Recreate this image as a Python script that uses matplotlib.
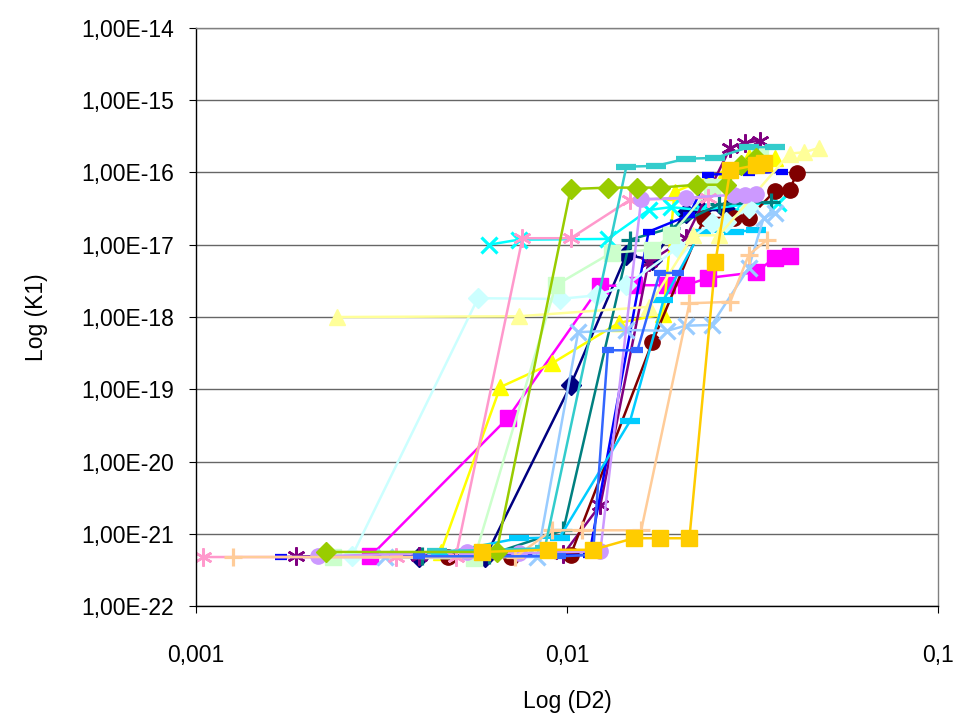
import numpy as np
import matplotlib
matplotlib.use("Agg")
import matplotlib.pyplot as plt
from matplotlib.ticker import FixedLocator, NullLocator

plt.rcParams['font.family'] = ['Liberation Sans', 'DejaVu Sans']

# values, stored as log10(D2) / log10(K1)
navy_x = [-2.40, -2.22, -1.99, -1.84, -1.77, -1.68, -1.64, -1.57]
navy_y = [-21.32, -21.32, -18.94, -17.14, -17.21, -16.56, -16.52, -16.52]

magenta_x = [-2.53, -2.16, -1.91, -1.82, -1.73, -1.68, -1.62, -1.49, -1.44, -1.40]
magenta_y = [-21.31, -19.40, -17.57, -17.56, -17.56, -17.56, -17.46, -17.38, -17.18, -17.16]

yellow_x = [-2.34, -2.18, -2.04, -1.86, -1.74, -1.71, -1.57, -1.51, -1.44]
yellow_y = [-21.25, -18.97, -18.64, -18.08, -17.96, -16.27, -15.97, -15.79, -15.80]

cyan_x = [-2.21, -2.13, -1.89, -1.78, -1.72, -1.64, -1.53, -1.43]
cyan_y = [-17.00, -16.93, -16.92, -16.52, -16.48, -16.52, -16.45, -16.42]

purple_x = [-2.73, -2.40, -2.01, -1.91, -1.78, -1.68, -1.56, -1.52, -1.48]
purple_y = [-21.31, -21.31, -21.28, -20.60, -17.24, -16.91, -15.66, -15.59, -15.56]

maroon_x = [-2.32, -2.15, -1.99, -1.77, -1.63, -1.55, -1.51, -1.44, -1.40, -1.38]
maroon_y = [-21.32, -21.32, -21.29, -18.35, -16.63, -16.63, -16.63, -16.26, -16.24, -16.01]

teal_x = [-2.39, -2.21, -2.01, -1.83, -1.72, -1.59, -1.52, -1.45]
teal_y = [-21.31, -21.29, -20.95, -16.93, -16.77, -16.44, -16.42, -16.41]

blue_x = [-2.77, -2.40, -1.94, -1.78, -1.67, -1.62, -1.51, -1.42]
blue_y = [-21.32, -21.31, -21.29, -16.82, -16.59, -16.03, -16.01, -15.99]

sky_x = [-2.34, -2.13, -2.02, -1.83, -1.74, -1.64, -1.55, -1.49]
sky_y = [-21.27, -21.06, -21.05, -19.44, -17.77, -16.82, -16.82, -16.80]

lcyan_x = [-2.58, -2.24, -2.02, -1.92, -1.84, -1.70, -1.61, -1.57, -1.51]
lcyan_y = [-21.31, -17.74, -17.75, -17.70, -17.56, -17.04, -16.70, -16.69, -16.49]

lgreen_x = [-2.63, -2.25, -2.03, -1.88, -1.77, -1.72, -1.61, -1.48]
lgreen_y = [-21.32, -21.34, -17.56, -17.11, -17.07, -16.87, -16.20, -15.76]

lyellow_x = [-2.62, -2.13, -1.78, -1.66, -1.59, -1.40, -1.36, -1.32]
lyellow_y = [-18.00, -17.99, -17.86, -16.87, -16.87, -15.74, -15.72, -15.66]

lblue_x = [-2.49, -2.08, -1.97, -1.84, -1.73, -1.68, -1.61, -1.51, -1.47, -1.44]
lblue_y = [-21.32, -21.32, -18.21, -18.18, -18.19, -18.12, -18.11, -17.32, -16.63, -16.56]

pink_x = [-2.98, -2.46, -2.30, -2.12, -1.99, -1.83, -1.62]
pink_y = [-21.32, -21.32, -21.32, -16.91, -16.91, -16.38, -16.35]

lavender_x = [-2.67, -2.27, -2.13, -1.91, -1.80, -1.68, -1.55, -1.52, -1.49]
lavender_y = [-21.31, -21.25, -21.27, -21.24, -16.37, -16.35, -16.31, -16.31, -16.30]

peach_x = [-2.90, -2.14, -2.04, -1.96, -1.80, -1.67, -1.56, -1.51, -1.46]
peach_y = [-21.32, -21.32, -20.95, -20.95, -20.95, -17.81, -17.79, -17.14, -16.93]

royal_x = [-2.40, -2.02, -1.93, -1.89, -1.81, -1.75, -1.70]
royal_y = [-21.31, -21.31, -21.29, -18.46, -18.46, -17.39, -17.39]

turq_x = [-2.35, -2.06, -1.84, -1.76, -1.68, -1.60, -1.51, -1.44]
turq_y = [-21.24, -21.20, -15.92, -15.91, -15.81, -15.80, -15.65, -15.65]

lime_x = [-2.65, -2.19, -1.99, -1.89, -1.81, -1.75, -1.65, -1.57, -1.53, -1.49]
lime_y = [-21.25, -21.25, -16.23, -16.21, -16.21, -16.21, -16.17, -16.17, -15.90, -15.80]

gold_x = [-2.23, -2.05, -1.93, -1.82, -1.75, -1.67, -1.60, -1.56, -1.49, -1.47]
gold_y = [-21.25, -21.22, -21.22, -21.06, -21.06, -21.06, -17.24, -15.97, -15.90, -15.87]

y_ticks = [1e-22, 1e-21, 1e-20, 1e-19, 1e-18, 1e-17, 1e-16, 1e-15, 1e-14]
y_labels = ['1,00E-22', '1,00E-21', '1,00E-20', '1,00E-19', '1,00E-18',
            '1,00E-17', '1,00E-16', '1,00E-15', '1,00E-14']
x_ticks = [0.001, 0.01, 0.1]
x_labels = ['0,001', '0,01', '0,1']

series = [
    (navy_x, navy_y, '#000080', 'D', 10, 1),
    (magenta_x, magenta_y, '#FF00FF', 's', 11, 1),
    (yellow_x, yellow_y, '#FFFF00', '^', 12, 1),
    (cyan_x, cyan_y, '#00FFFF', 'x', 11, 2.3),
    (purple_x, purple_y, '#800080', (6, 2, 0), 13, 1.8),
    (maroon_x, maroon_y, '#800000', 'o', 11, 1),
    (teal_x, teal_y, '#008080', '+', 13, 2.3),
    (blue_x, blue_y, '#0000FF', '_', 9, 4.5),
    (sky_x, sky_y, '#00CCFF', '_', 15, 4.5),
    (lcyan_x, lcyan_y, '#CCFFFF', 'D', 10, 1),
    (lgreen_x, lgreen_y, '#CCFFCC', 's', 11, 1),
    (lyellow_x, lyellow_y, '#FFFF99', '^', 12, 1),
    (lblue_x, lblue_y, '#99CCFF', 'x', 11, 2.3),
    (pink_x, pink_y, '#FF99CC', (6, 2, 0), 13, 1.8),
    (lavender_x, lavender_y, '#CC99FF', 'o', 11, 1),
    (peach_x, peach_y, '#FFCC99', '+', 13, 2.3),
    (royal_x, royal_y, '#3366FF', '_', 9, 4.5),
    (turq_x, turq_y, '#33CCCC', '_', 15, 4.5),
    (lime_x, lime_y, '#99CC00', 'D', 10, 1),
    (gold_x, gold_y, '#FFCC00', 's', 11, 1),
]

fig = plt.figure(figsize=(9.61, 7.14), dpi=100)
ax = fig.add_axes([0.204, 0.151, 0.772, 0.810])

for xs, ys, col, mk, ms, mew in series:
    ax.plot(10 ** np.array(xs), 10 ** np.array(ys), color=col, lw=1.8,
            marker=mk, ms=ms, mfc=col, mec=col, mew=mew)

ax.set_xscale('log')
ax.set_yscale('log')
ax.set_xlim(0.001, 0.1)
ax.set_ylim(1e-22, 1e-14)

ax.yaxis.set_major_locator(FixedLocator(y_ticks))
ax.yaxis.set_minor_locator(NullLocator())
ax.set_yticklabels(y_labels)
ax.xaxis.set_major_locator(FixedLocator(x_ticks))
ax.xaxis.set_minor_locator(NullLocator())
ax.set_xticklabels(x_labels)

ax.yaxis.grid(True, color='#666666', lw=1)
ax.set_axisbelow(True)

for s in ['top', 'right']:
    ax.spines[s].set_color('#808080')
    ax.spines[s].set_linewidth(1)
for s in ['left', 'bottom']:
    ax.spines[s].set_color('black')
    ax.spines[s].set_linewidth(1)

ax.tick_params(axis='y', direction='out', length=5, pad=11, labelsize=16.5)
ax.tick_params(axis='x', direction='out', length=5, pad=22, labelsize=16.5)

ax.set_ylabel('Log (K1)', fontsize=16.5, labelpad=24)
ax.set_xlabel('Log (D2)', fontsize=16.5, labelpad=17)

fig.savefig('out.png', dpi=100)
